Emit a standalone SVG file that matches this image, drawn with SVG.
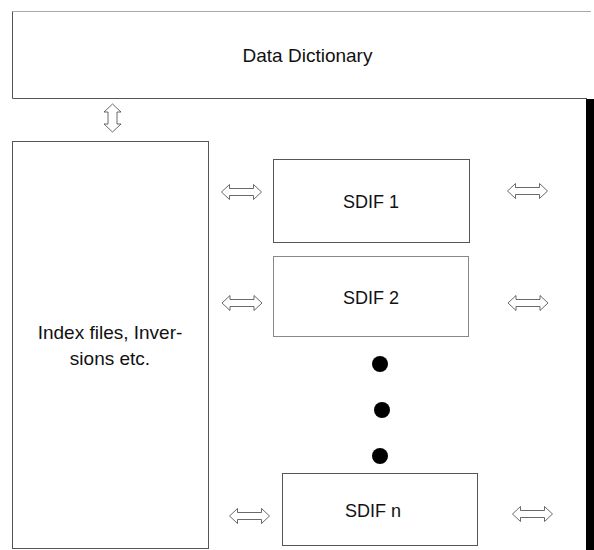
<svg xmlns="http://www.w3.org/2000/svg" width="594" height="550" viewBox="0 0 594 550">
<style>
.box{fill:#fff;stroke:#555;stroke-width:1}
.lbl{font-family:"Liberation Sans",Arial,sans-serif;font-size:18px;fill:#111;text-anchor:middle}
.big{font-size:19px}
.arr{fill:#fff;stroke:#444;stroke-width:0.8}
</style>
<defs>
<path id="harr" d="M0,0 L8,-7.5 L8,-3.5 L32,-3.5 L32,-7.5 L40,0 L32,7.5 L32,3.5 L8,3.5 L8,7.5 Z"/>
<path id="varr" d="M0,0 L8.5,8 L4.5,8 L4.5,20 L8.5,20 L0,28 L-8.5,20 L-4.5,20 L-4.5,8 L-8.5,8 Z"/>
</defs>
<rect width="594" height="550" fill="#fff"/>
<g id="data-dictionary">
<path d="M591,11.5 L12.5,11.5 L12.5,98.5 L587,98.5" fill="#fff" stroke="#555" stroke-width="1"/>
<line x1="12.5" y1="11.5" x2="591" y2="11.5" stroke="#aaa" stroke-width="1"/>
<text class="lbl big" x="307.5" y="62">Data Dictionary</text>
</g>
<g id="index-files">
<rect class="box" x="12.5" y="141.5" width="196" height="407"/>
<text class="lbl big" x="110" y="339">Index files, Inver-</text>
<text class="lbl big" x="110" y="365">sions etc.</text>
</g>
<g id="sdif1">
<rect class="box" x="273.5" y="159.5" width="196" height="83"/>
<text class="lbl" x="371" y="208">SDIF 1</text>
</g>
<g id="sdif2">
<rect class="box" x="273.5" y="256.5" width="195" height="80" style="stroke:#888"/>
<text class="lbl" x="371" y="304">SDIF 2</text>
</g>
<g id="dots">
<circle cx="380" cy="364" r="8" fill="#000"/>
<circle cx="382" cy="410" r="8" fill="#000"/>
<circle cx="380" cy="456" r="8" fill="#000"/>
</g>
<g id="sdifn">
<rect class="box" x="282.5" y="473.5" width="195" height="72"/>
<text class="lbl" x="373" y="517">SDIF n</text>
</g>
<g id="bar">
<rect x="586" y="99" width="8" height="451" fill="#000"/>
</g>
<g id="connectors">
<use href="#varr" class="arr" x="112.5" y="104"/>
<use href="#harr" class="arr" x="221.5" y="192"/>
<use href="#harr" class="arr" x="507.5" y="191"/>
<use href="#harr" class="arr" x="222" y="303"/>
<use href="#harr" class="arr" x="508" y="303"/>
<use href="#harr" class="arr" x="229.5" y="516"/>
<use href="#harr" class="arr" x="512.5" y="514"/>
</g>
</svg>
